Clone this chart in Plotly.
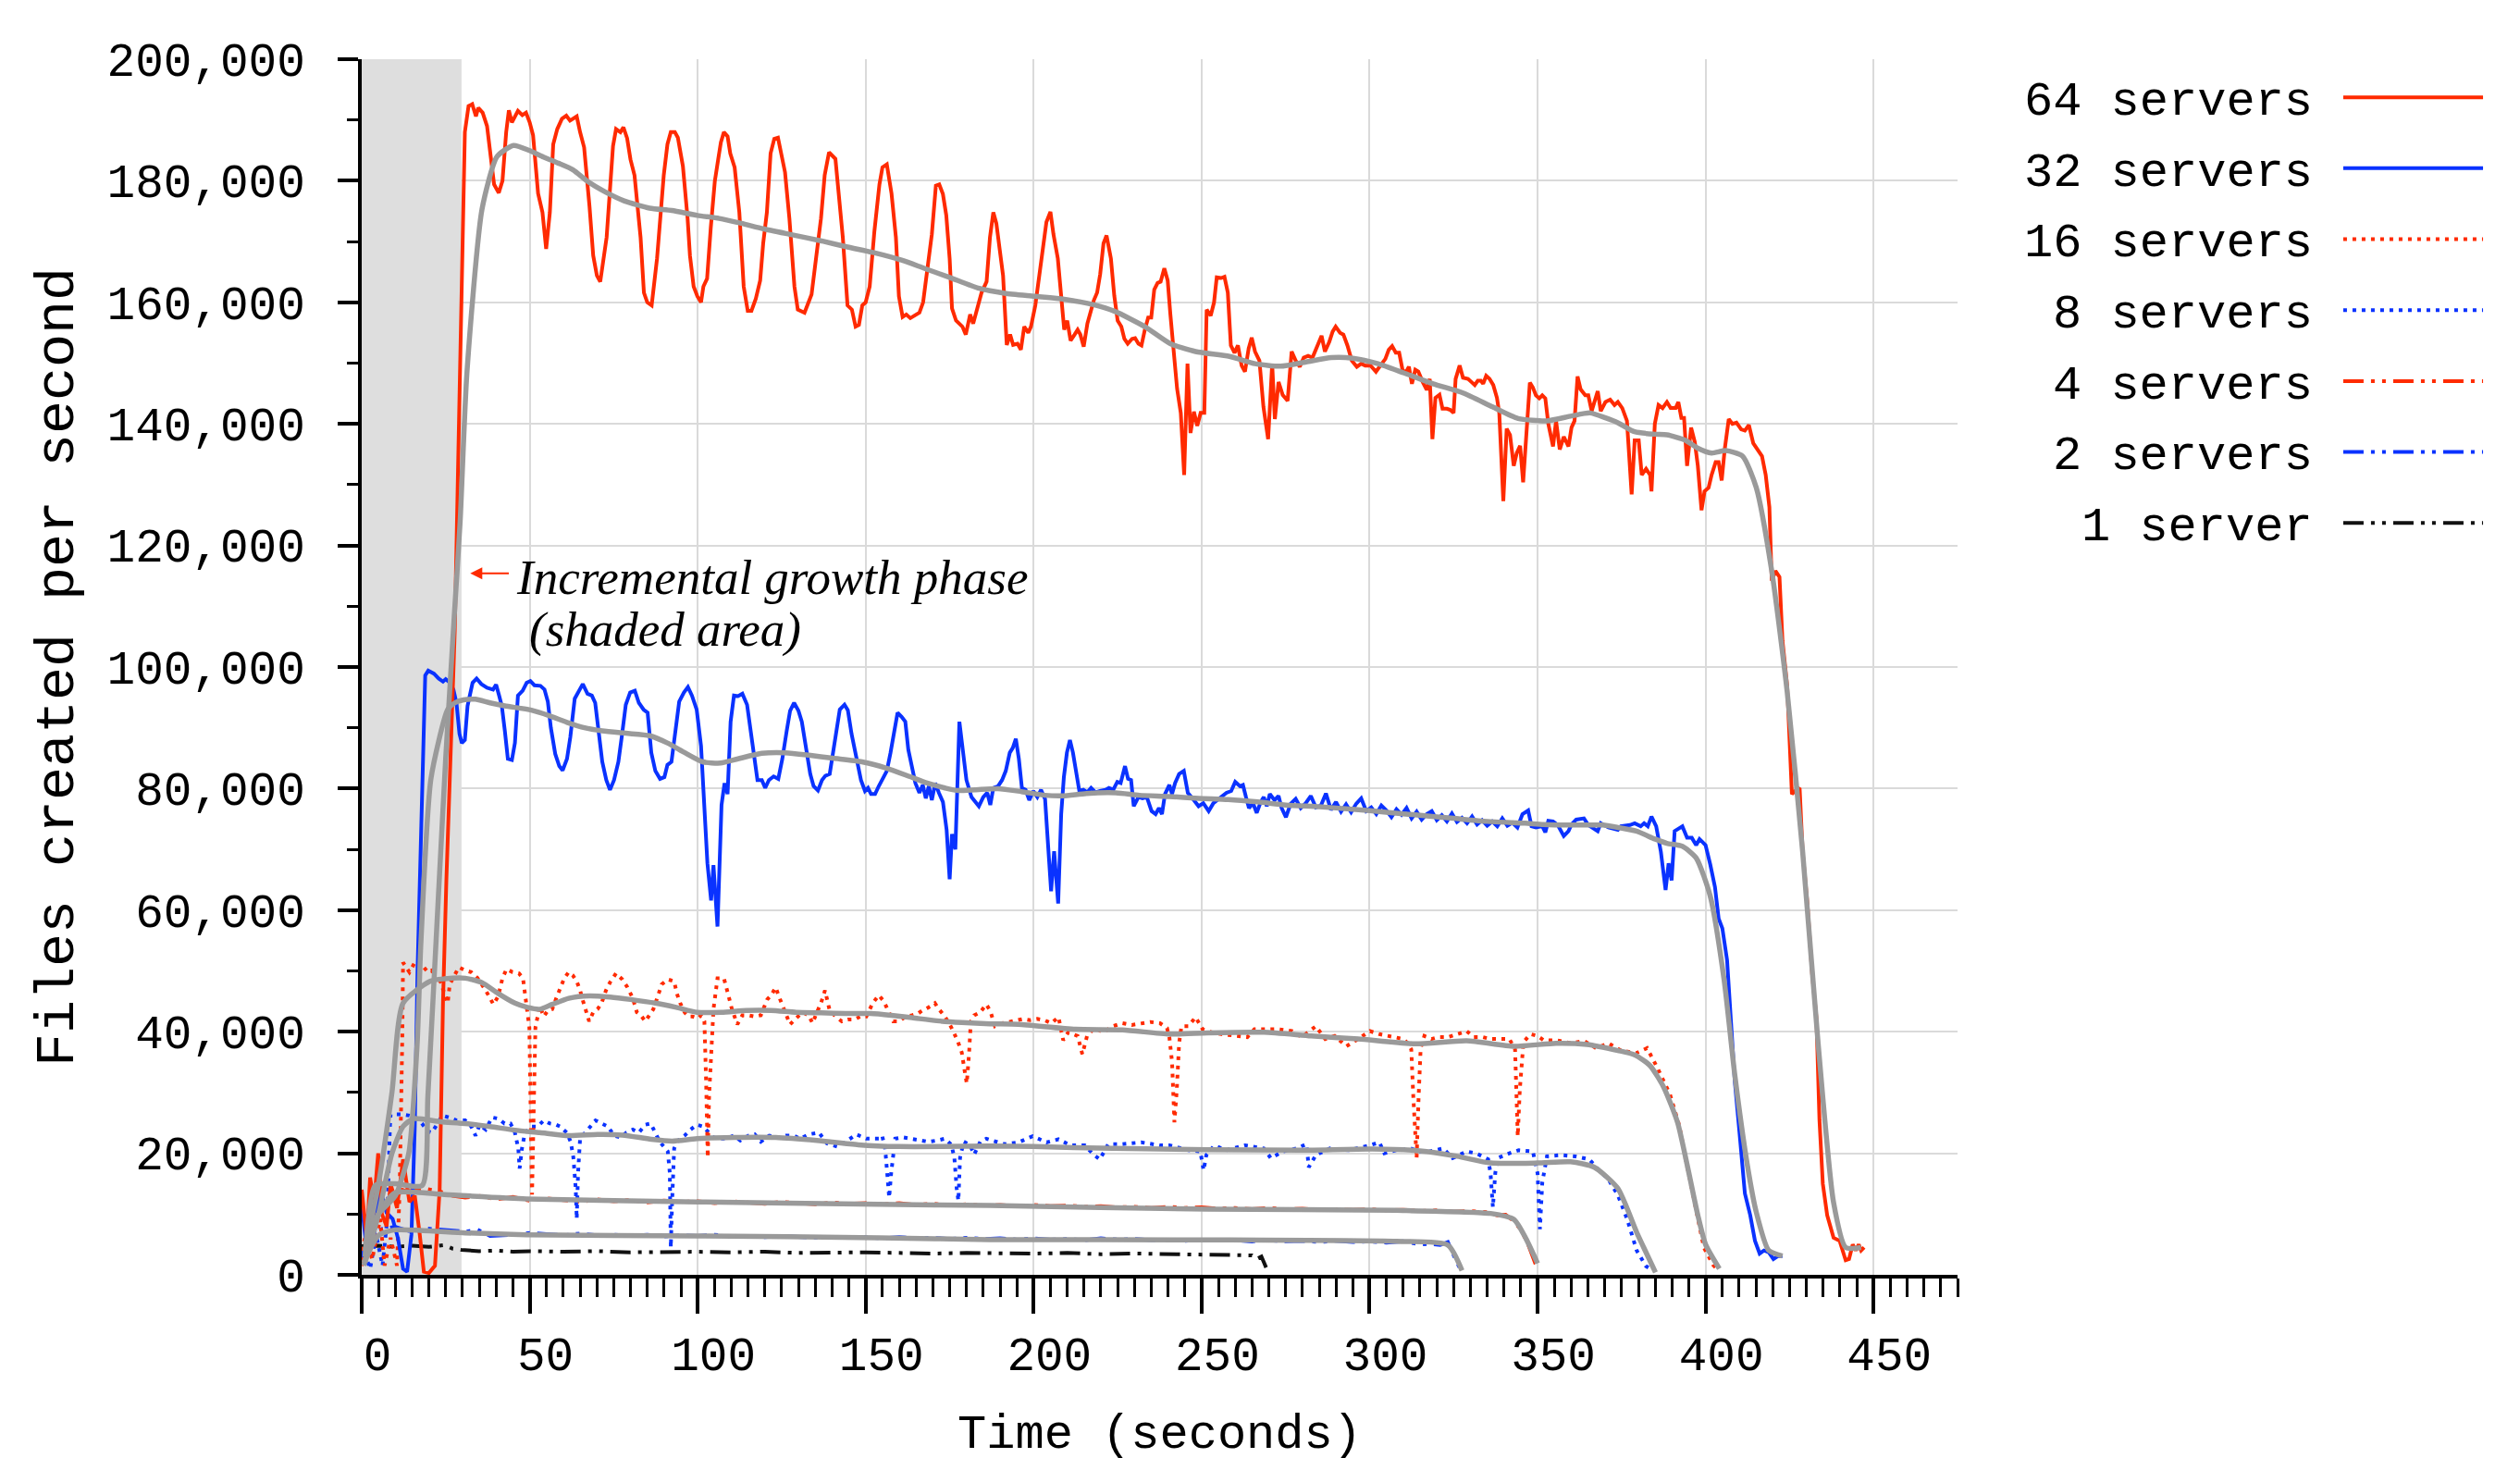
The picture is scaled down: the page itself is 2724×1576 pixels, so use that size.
import plotly.graph_objects as go

# ---------------- data: (time in seconds, thousand files created per second) ----------------
s64 = [(0, 14), (1.5, 6), (2.5, 16), (3.7, 12), (4.9, 20), (6, 10), (7.4, 8), (8.6, 15), (10.5, 11), (12.3, 19),
       (14.2, 12), (15.8, 13), (17.2, 7), (18.5, 0.5), (20, 0.3), (21.8, 1.5), (23.2, 14), (24.2, 45), (25.2, 65),
       (27.7, 106), (30.7, 188), (31.8, 192.3), (32.9, 192.6), (34, 190.6), (34.7, 192), (36, 191.2), (37.3, 189),
       (38, 186), (39.4, 179.4), (40.8, 178), (41.9, 180), (43, 188), (43.8, 191.6), (44.7, 189.6), (46.5, 191.5),
       (47.8, 190.8), (48.9, 191.2), (50, 189.6), (51, 187.5), (52.5, 177.9), (53.8, 174.8), (54.9, 168.8),
       (56, 174.8), (57, 186), (58.2, 188.5), (59.6, 190.2), (60.9, 190.7), (62, 189.9), (64, 190.6), (65, 188),
       (66.2, 185.5), (67.8, 175.8), (68.9, 167.7), (70, 164.4), (71, 163.4), (72.9, 170.7), (74, 179.9),
       (74.8, 185.7), (75.7, 188.5), (77, 188), (77.9, 188.8), (79, 187), (80, 183.5), (81.2, 180.9), (83, 170.7),
       (84, 161.6), (85, 160), (86.3, 159.5), (87.9, 167.2), (89, 175.8), (89.9, 180.9), (91, 186), (92, 188),
       (93.2, 188), (94.1, 187.1), (95.6, 182.4), (97, 173.8), (97.7, 167.7), (98.8, 162.6), (99.9, 161), (101, 160),
       (101.7, 162.6), (102.8, 163.9), (103.9, 172.3), (105.1, 179.9), (106.1, 183.5), (106.9, 186.3), (107.8, 188),
       (108.9, 187.3), (109.7, 184.5), (111, 182.2), (112.4, 174.8), (113.7, 162.6), (114.9, 158.6), (116, 158.6),
       (117.3, 160.6), (118.6, 163.6), (119.5, 169.7), (120.6, 174.8), (121.7, 184.5), (122.8, 186.9), (123.9, 187.1),
       (125, 184), (126, 181.4), (127.3, 173.8), (128.8, 162.6), (129.8, 158.8), (131.8, 158.3), (133.9, 161.3),
       (135.3, 167.7), (136.7, 173.8), (137.8, 180.9), (139.1, 184.7), (141, 183.6), (141.8, 178.4), (143.2, 170.7),
       (144.6, 159.5), (145.9, 158.8), (147, 156), (148, 156.3), (149, 159.5), (150, 160), (151.2, 162.6),
       (152.6, 171.7), (154.1, 179.4), (155, 182.2), (156.3, 182.7), (157.7, 177.9), (159, 170.7), (159.9, 161),
       (161, 157.6), (162.1, 158), (163.3, 157.4), (164.8, 158), (166, 158.3), (167.1, 160), (168.7, 167.2),
       (169.7, 171.2), (170.9, 179.2), (171.9, 179.4), (173, 177.8), (174, 174.3), (175, 167.2), (175.7, 159),
       (176.9, 157), (178.8, 156), (179.8, 154.7), (181.1, 158), (182, 156.5), (183.2, 159), (184.5, 161.6),
       (186, 163.4), (187, 170.7), (188, 174.8), (188.9, 173), (189.9, 168.7), (190.9, 164.4), (192, 153),
       (193, 154.7), (193.9, 153), (195.2, 153.2), (196.2, 152.2), (197.2, 156), (198.4, 155), (199.2, 156),
       (200.5, 159.5), (201.8, 165.1), (203.8, 173.2), (205, 174.9), (205.9, 171.2), (207.2, 167.2), (208.1, 161.1),
       (209.1, 155.5), (210, 157), (211, 153.7), (212.2, 154.7), (213.1, 155.5), (213.9, 154.7), (214.9, 152.7),
       (216, 156.5), (216.9, 158.3), (217.9, 160.3), (218.9, 161.6), (219.8, 164.6), (220.8, 169.7), (221.7, 171),
       (223, 167.2), (224, 161.1), (225, 157), (226.1, 156), (227, 154), (228, 153.2), (229.3, 154), (230.2, 154.1),
       (231.2, 153.2), (232.1, 152.9), (233.1, 155.5), (234.1, 157.5), (235, 157.5), (235.9, 162.1), (236.9, 163.2),
       (237.8, 163.4), (238.9, 165.6), (239.9, 163.6), (240.7, 158), (241.7, 151.9), (242.7, 145.8), (243.8, 141.8),
       (244.8, 131.6), (245.8, 149.9), (246.7, 138.5), (247.7, 142), (248.7, 139.7), (249.7, 141.8), (250.8, 141.8),
       (251.5, 158.8), (252.7, 157.8), (253.7, 160), (254.5, 164.1), (255.8, 164), (256.8, 164.2), (257.8, 161.6),
       (258.7, 152.9), (259.8, 151.7), (260.8, 152.9), (261.9, 149.6), (262.9, 148.6), (264, 152.4), (264.9, 154.2),
       (265.9, 151.9), (267.2, 150.4), (268.4, 142.8), (269.8, 137.5), (271, 149.9), (271.8, 140.8), (272.9, 146.9),
       (274.1, 144.8), (275.6, 143.8), (276.8, 151.9), (278, 150.4), (279.2, 149.4), (280.4, 150.9), (281.7, 151.2),
       (283, 150.9), (284.2, 152.4), (285.7, 154.5), (286.7, 151.9), (288, 153.5), (289, 155.2), (289.9, 156),
       (291.2, 155), (292.2, 154.7), (293.4, 152.9), (294.7, 150.4), (296.2, 149.4), (297.5, 149.9), (298.7, 149.6),
       (300.3, 149.6), (301.9, 148.6), (303.2, 149.6), (304.7, 150.7), (305.7, 152.2), (306.7, 152.8), (307.8, 151.7),
       (308.8, 151.7), (309.8, 148.9), (310.7, 148.4), (311.7, 149.4), (312.6, 146.6), (313.6, 148.9), (314.5, 148.6),
       (315.8, 146.9), (317, 145.6), (317.9, 147.4), (318.7, 137.5), (319.6, 144.3), (320.8, 144.8), (321.7, 142.5),
       (323, 142.5), (324, 142.3), (325, 141.8), (325.6, 147.4), (326.8, 149.6), (327.8, 147.6), (329.3, 147.4),
       (330.3, 146.9), (331.3, 146.4), (332.2, 147.1), (333.1, 147.1), (333.8, 146.6), (334.7, 147.9), (335.7, 147.4),
       (336.8, 146.4), (337.9, 144.3), (338.6, 141.8), (339.8, 127.3), (340.8, 139.2), (341.8, 138.2), (342.9, 133.1),
       (343.8, 135.2), (344.8, 136.4), (345.7, 130.4), (347.7, 146.8), (348.6, 146), (349.5, 144.7), (350.5, 144.2),
       (351.4, 144.7), (352.3, 144.2), (353.2, 140), (354.6, 136.3), (355.5, 140.5), (356.6, 135.8), (357.8, 137.9),
       (359.2, 136.3), (360.1, 139.4), (361, 140.5), (361.9, 147.8), (362.8, 145.7), (364.2, 144.7), (365.1, 144.7),
       (366.1, 142.1), (367.9, 145.4), (368.8, 142.1), (370.2, 143.6), (371.6, 144), (372.9, 143.1), (373.9, 143.6),
       (375.2, 142.6), (376.6, 140.5), (378, 128.4), (378.9, 137.3), (380.1, 137.3), (381, 131.6), (382.3, 132.6),
       (383.5, 131.6), (383.9, 128.9), (384.9, 140), (386, 143.1), (387.2, 142.6), (388.5, 143.6), (389.6, 142.6),
       (391.1, 142.6), (391.9, 143.6), (392.8, 141), (393.6, 141), (394.5, 133.1), (395.7, 139.4), (396.8, 137),
       (397.7, 133.1), (398.8, 125.8), (399.7, 128.9), (400.9, 129.5), (401.8, 131.6), (403, 133.7), (403.9, 133.7),
       (404.8, 130.7), (405.7, 135.8), (406.9, 140.8), (408, 140), (409.2, 140.2), (410.6, 139.1), (411.7, 138.9),
       (412.9, 139.8), (414.2, 136.8), (415.6, 135.6), (416.8, 134.7), (417.9, 131.6), (419, 126.3), (419.7, 114.2),
       (420.8, 115.8), (422, 114.8), (422.9, 104.3), (424.3, 96.9), (425.7, 79.1), (426.6, 79.6), (428, 80.1),
       (428.9, 69.6), (430.3, 61.2), (431.7, 49.7), (433, 42.3), (433.9, 25.5), (434.9, 15), (436.2, 9.8),
       (438.1, 6.1), (439.9, 5.6), (441.7, 2.4), (442.7, 2.6), (443.8, 5), (444.7, 4), (445.6, 5), (446.3, 4),
       (447.2, 4.5)]

g64 = [(1, 3), (4, 14.7), (10, 15), (18, 14.7), (19.7, 29.5), (22.8, 62), (25, 85), (27.5, 108), (29.3, 124),
       (31.3, 148.3), (35.8, 175.3), (40.3, 184), (45.2, 185.8), (49.8, 185), (54.1, 183.9), (58.5, 182.9),
       (62.9, 181.8), (67.2, 179.9), (72.7, 178.1), (78.1, 176.7), (85.7, 175.5), (92.3, 175.1), (99.9, 174.3),
       (106.4, 173.8), (113, 173), (119.5, 172.1), (128.2, 171.1), (136.9, 170.1), (144.6, 169.1), (152.2, 168.2),
       (160.9, 166.9), (167.4, 165.6), (175, 164.1), (183.8, 162.3), (191.4, 161.5), (200.3, 161), (209.1, 160.5),
       (217.9, 159.6), (224.2, 158.5), (233.1, 156), (240.7, 153.2), (248.2, 151.9), (258.3, 151.1), (265.9, 149.9),
       (273.5, 149.5), (281.1, 150.2), (288.6, 150.9), (295, 150.8), (302.5, 149.9), (310.1, 148.4), (318.9, 146.6),
       (327.8, 145.1), (336.6, 142.8), (344.2, 140.9), (352.8, 140.5), (360.1, 141.3), (365.6, 141.8), (370.2, 141),
       (373.9, 140.2), (378.9, 138.7), (384.9, 138.3), (388.5, 138.2), (394, 137.3), (397.7, 136), (401.8, 135.2),
       (406, 135.6), (411, 134.7), (415.1, 129.5), (419.7, 115.8), (424.3, 95.9), (428.9, 69.6), (433.5, 38.1),
       (438.1, 11.9), (441.7, 4.5), (446.3, 4.5)]

s32 = [(0, 11.7), (1.5, 4), (2.5, 9.2), (3.7, 6.6), (5.5, 14.2), (7.4, 10.2), (9.2, 9.2), (10.8, 6), (12.3, 1),
       (13.5, 0.5), (14.8, 6.6), (15.8, 24.4), (16.6, 49.8), (17.7, 75.8), (18.9, 98.6), (19.8, 99.4), (21.5, 98.9),
       (22.9, 98.1), (24.2, 97.6), (25, 98), (26.3, 97.4), (27.3, 96.3), (28.2, 94.1), (29.1, 89), (29.8, 87.5),
       (30.7, 88), (31.5, 93.6), (33, 97.4), (34.2, 98.1), (35.6, 97.2), (37.3, 96.6), (39.1, 96.3), (40, 97.1),
       (40.9, 95.3), (41.7, 93.6), (42.6, 89.5), (43.5, 84.9), (44.7, 84.7), (45.6, 87.5), (46.5, 95.3), (47.9, 96.1),
       (49.1, 97.4), (50.2, 97.7), (51.4, 97), (53.2, 96.9), (54.4, 96.3), (55.4, 94.3), (56.3, 90), (57.6, 85.7),
       (58.8, 83.7), (59.8, 83), (61.1, 84.9), (62.1, 88.5), (63.4, 94.8), (64.6, 96.1), (65.8, 97.2), (67.2, 95.6),
       (68.5, 95.3), (69.5, 94.1), (70.4, 89.5), (71.6, 84.4), (72.8, 81.4), (73.9, 79.8), (75.1, 81.4), (76.4, 84.4),
       (77.4, 88.5), (78.6, 93.8), (79.9, 95.8), (81.3, 96.1), (82.5, 94.1), (83.9, 93), (85.1, 92.5), (86.2, 85.9),
       (87.4, 82.9), (88.8, 81.6), (90.1, 81.9), (91, 83.9), (92.2, 84.4), (93.2, 88.5), (94.5, 94.3), (95.9, 95.8),
       (97.1, 96.7), (98.3, 95.3), (99.7, 93), (101, 87), (102, 75.8), (102.9, 67.7), (104, 61.6), (104.7, 67.4),
       (105.9, 57.3), (107.1, 77.3), (108, 80.9), (108.9, 79.1), (109.8, 91), (110.8, 95.3), (112, 95.2),
       (113.3, 95.6), (114.7, 93.8), (115.9, 89), (117, 83.9), (117.8, 81.4), (119.1, 81.4), (120.1, 80.1),
       (121.2, 81.4), (122.6, 82), (124, 81.6), (125.2, 84.9), (126.5, 89.5), (127.5, 92.8), (128.7, 94.1),
       (130, 92.8), (131, 91), (132.2, 87), (133.5, 82.4), (134.5, 80.4), (135.8, 79.7), (137, 81.4), (138, 82.1),
       (139.3, 82.4), (140.2, 85.9), (141.2, 89.5), (142.3, 93), (143.7, 93.8), (144.7, 92.9), (145.8, 89),
       (147.2, 84.9), (148.6, 81.4), (149.8, 79.6), (150.7, 80.1), (151.6, 79.1), (152.8, 79.1), (153.9, 80.4),
       (154.9, 81.4), (156.3, 82.9), (157.4, 85.9), (158.6, 89.5), (159.5, 92.5), (160.7, 91.8), (161.8, 91),
       (162.7, 86.4), (163.9, 82.9), (164.8, 80.9), (166, 79.3), (167, 80.6), (167.9, 78.4), (168.8, 80.4),
       (169.7, 78.1), (170.7, 80.9), (171.8, 79.3), (173, 77.8), (174.1, 73.2), (175, 65.1), (175.7, 72.5),
       (176.7, 70), (177.9, 91), (178.8, 86.4), (180, 81.4), (181.5, 78.6), (182.7, 77.8), (183.7, 77.1), (185, 78.6),
       (186.2, 79.3), (187.1, 77.3), (188, 80.1), (189.4, 80.4), (190.6, 81.4), (191.7, 82.9), (192.9, 85.9),
       (193.8, 86.7), (194.7, 88.2), (195.6, 84.9), (196.5, 80.1), (197.6, 79.8), (198.7, 78.1), (199.9, 79.6),
       (201.1, 78.6), (202.2, 79.8), (203.4, 78.3), (204, 73.2), (205.2, 63.1), (206.1, 69.7), (207.3, 61.1),
       (208.2, 75.8), (209, 81.9), (209.9, 85.9), (210.8, 88), (211.7, 85.9), (212.5, 83.4), (213.6, 79.6),
       (214.8, 79.8), (216, 79.4), (217.1, 80.1), (218.4, 79.4), (219.8, 79.6), (221.4, 79.8), (222.4, 80.1),
       (223.7, 79.8), (224.9, 81.1), (225.9, 80.9), (227.2, 83.7), (228.1, 81.6), (229, 81.4), (229.8, 77.1),
       (231.2, 78.6), (232.4, 78.4), (233.7, 78.6), (235.1, 76.3), (236.3, 75.8), (237.3, 76.8), (238.2, 75.8),
       (239.1, 79.1), (240.4, 80.6), (241.2, 79.1), (242.1, 80.9), (243.3, 82.4), (244.7, 82.9), (245.9, 79.3),
       (247.3, 78.4), (249.1, 77.1), (250.5, 77.6), (252.1, 76.3), (253.5, 77.6), (254.7, 78.1), (256.1, 78.8),
       (257.4, 79.3), (258.8, 79.6), (260, 81.1), (261.4, 80.4), (262.3, 80.6), (263.2, 78.6), (264.1, 76.8),
       (265.3, 77.6), (266.4, 76), (267.6, 77.8), (268.5, 78.6), (269.4, 77.1), (270.3, 79.1), (271.7, 78.1),
       (272.9, 78.8), (273.8, 76.8), (275.1, 75.3), (276.5, 77.5), (278, 78.3), (279.5, 76.8), (281, 77.6),
       (282.5, 78.8), (284, 76.9), (285.5, 77.2), (287, 79.2), (288.5, 76.5), (290, 77.8), (291.5, 76.2), (293, 77.4),
       (294.5, 76.1), (296, 77.5), (297.5, 78.4), (299, 76.3), (300.5, 76.9), (302, 75.8), (303.5, 77.2), (305, 76.4),
       (306.5, 75.3), (308, 76.6), (309.5, 75.7), (311, 76.8), (312.5, 75.1), (314, 76.2), (315.5, 74.9), (317, 75.8),
       (318.5, 76.3), (320, 74.8), (321.5, 75.6), (323, 74.6), (324.5, 75.9), (326, 74.5), (327.5, 75.2), (329, 74.3),
       (330.5, 75.4), (332, 74.1), (333.5, 74.8), (335, 73.9), (336.5, 74.6), (338, 73.8), (339.5, 75.1), (341, 73.9),
       (342.5, 74.4), (344, 73.6), (345.5, 75.8), (347.2, 76.4), (348.2, 73.8), (349.5, 73.6), (351.4, 73.8),
       (352.3, 72.8), (353.2, 74.7), (354.6, 74.6), (356, 74), (357.8, 72.2), (359.2, 73), (360.1, 74.1),
       (361.5, 74.9), (363.8, 75.1), (365.1, 74), (367.9, 73), (368.8, 74.3), (371.1, 73.6), (373.9, 73.2),
       (374.8, 73.8), (377.5, 74), (378.9, 74.3), (380.7, 73.8), (381.7, 74.3), (382.8, 73.8), (383.9, 75.4),
       (385.3, 73.8), (386.7, 69.6), (388.1, 63.3), (389, 67.7), (389.9, 64.9), (390.8, 73), (393.1, 73.8),
       (394.5, 71.9), (395.9, 71.9), (397.2, 70.7), (398.2, 71.7), (400, 70.7), (401.4, 67.5), (402.8, 63.8),
       (403.9, 58.6), (405, 57), (406.4, 51.8), (407.3, 44.4), (408.7, 31.8), (410.1, 23.4), (411.7, 13.4),
       (413.3, 9.8), (414.7, 5.6), (416.1, 3.5), (417.4, 4), (418.8, 3.7), (420.2, 2.6), (421.6, 3.1), (422.9, 3.1)]

g32 = [(1, 5), (5, 10), (10, 13), (14, 20), (16.5, 38), (17.6, 54.5), (20.6, 81.6), (25.6, 93), (27.7, 94.1),
       (30.3, 94.6), (33.8, 94.7), (38.2, 94.1), (42.6, 93.6), (50.5, 92.9), (55.8, 92), (61.1, 90.9), (66.3, 90),
       (71.6, 89.5), (78.6, 89.1), (85.7, 88.7), (91, 87.5), (96.2, 85.9), (101.5, 84.4), (106.8, 84.2), (112, 84.9),
       (119.1, 85.8), (126.1, 85.9), (133.1, 85.5), (140.2, 85), (148.9, 84.4), (156, 83.4), (163, 82), (168.3, 80.9),
       (173.6, 80.1), (177.1, 79.7), (182.4, 79.8), (189.4, 80), (196.4, 79.5), (203.4, 78.9), (208.7, 78.8),
       (215.7, 79.2), (224.5, 79.3), (231.5, 78.9), (240.3, 78.7), (249.1, 78.4), (257.9, 78.2), (266.7, 77.8),
       (275.1, 77.3), (285, 77), (295, 76.6), (305, 76.1), (315, 75.6), (325, 75.1), (335, 74.6), (346.3, 74.3),
       (351.8, 74.1), (360.1, 74), (369.3, 74), (373.9, 73.6), (379.4, 73), (384.9, 71.7), (388.5, 71), (393.1, 70.5),
       (397.2, 68.6), (401.4, 62.3), (405.5, 48.6), (408.7, 32.9), (412.4, 18.2), (415.1, 10.3), (418.8, 4),
       (422.9, 3.1)]

s16 = [(0, 4), (1.2, 6.6), (3.1, 2.5), (5.5, 9.2), (6.8, 1.5), (8.6, 6.1), (10.5, 1.5), (11.3, 14.2), (12.1, 39.7),
       (12.3, 51.4), (14.2, 49.8), (15.8, 51.4), (17.2, 50.3), (18.5, 50.6), (19.7, 49.8), (20.9, 50.1), (22.4, 47.8),
       (23.4, 48.3), (24.6, 46.3), (25.6, 44.7), (26.2, 47.8), (27.1, 48.8), (28.9, 50.6), (30.8, 50.1), (32.6, 49.8),
       (34.5, 48.8), (36.9, 46.8), (39.2, 44.5), (40.6, 45.8), (41.9, 48.8), (43.1, 50.3), (44.9, 49.8), (46.8, 49.6),
       (48, 48.8), (49, 44.2), (49.9, 40.7), (50.5, 19.3), (50.7, 13.2), (51.1, 24.4), (51.7, 40.7), (53, 44.2),
       (54.2, 42.5), (55.4, 43.5), (56.7, 43.7), (57.9, 45.5), (59.1, 47.3), (60.3, 48.8), (61.6, 49.8), (62.8, 49.3),
       (64, 48.3), (65, 46.8), (65.9, 45), (66.7, 43.7), (67.7, 41.7), (68.9, 43.2), (70.2, 43.7), (71.4, 44.7),
       (72.7, 46.8), (73.9, 48.1), (75.7, 49.6), (77.6, 48.6), (79.1, 47.3), (80.7, 45.5), (81.9, 43.2), (83.1, 42.7),
       (84.4, 41.7), (85.6, 42.7), (86.8, 43.7), (88.1, 45.8), (89.3, 47.8), (91.1, 48.6), (93, 48.3), (93.8, 46.3),
       (94.8, 44.7), (96.1, 43.2), (97.3, 42.5), (98.5, 42.5), (100, 42.2), (101, 42.7), (102, 41.7), (102.5, 32.1),
       (103, 19.3), (103.4, 29.5), (104.1, 38.6), (104.7, 43.7), (105.9, 48.8), (107.8, 48.8), (109, 46.3),
       (110.2, 43.7), (111.8, 41.2), (113.3, 42.7), (115.1, 42.7), (117, 42.5), (118.8, 42.7), (120.7, 45.3),
       (121.9, 46), (123.2, 47.3), (124.4, 45.5), (125.6, 43.7), (127.5, 41.2), (129.3, 42.2), (131.2, 43.2),
       (133, 42.7), (134.2, 41.4), (135.5, 43.2), (136.7, 44.7), (137.9, 46.8), (139.2, 43.7), (141, 42.5),
       (142.9, 41.7), (144.7, 42), (146.6, 42), (148.4, 42.5), (150.2, 42.5), (152.1, 44.7), (153.9, 46), (155.4, 45),
       (156.4, 43.7), (158.2, 41.7), (159.9, 41.7), (161.9, 42.5), (163.8, 42.7), (165.6, 43), (166.9, 43.5),
       (168.7, 44), (170.6, 44.7), (171.8, 43.7), (173.6, 42.5), (175.5, 40.7), (177.3, 38.6), (178.6, 36.6),
       (179.6, 33.1), (180.1, 31.5), (180.8, 36.6), (181.3, 41.7), (182.3, 42.7), (184.1, 43.2), (185.9, 44.5),
       (187.1, 43.4), (188.5, 40.9), (190.6, 41.4), (192.7, 41.6), (194.8, 41.9), (196.9, 42.1), (199, 41.9),
       (201.1, 42.1), (203.2, 41.9), (205.3, 41.4), (207.4, 42.4), (208.8, 38.6), (210.3, 39.9), (211.7, 39.6),
       (213.1, 39.3), (214.5, 36.3), (215.9, 39.3), (218, 40.6), (220.8, 39.9), (223.6, 40.9), (226.4, 41.4),
       (229.2, 41.1), (232, 41.4), (234.8, 41.6), (237.6, 41.4), (239.7, 40.6), (240.4, 39.1), (241.2, 35),
       (241.9, 25.1), (242.6, 30.4), (243.3, 38.1), (244, 40.9), (246.1, 40.9), (248.2, 42.4), (250.3, 40.4),
       (253.1, 39.9), (255.9, 39.6), (260.1, 39.3), (263.6, 39.1), (265.7, 40.4), (268.5, 40.4), (272.8, 40.4),
       (276.9, 40.1), (279.8, 39.1), (284, 40.9), (286.8, 38.8), (289.6, 39.3), (293.1, 37.6), (296.6, 38.8),
       (300.1, 40.1), (302.9, 39.6), (305.8, 39.3), (307.9, 39.1), (310, 38.8), (311.4, 38.1), (312.4, 37.1),
       (313, 29.4), (313.5, 24.3), (314, 19.2), (314.6, 29.4), (315.2, 37.3), (316.3, 39.3), (318.4, 38.8),
       (320.5, 39.1), (323.3, 39.1), (326.1, 39.6), (328.9, 40.1), (331, 39.1), (333.8, 39.1), (336, 38.8),
       (338.8, 38.8), (341.6, 38.8), (343.3, 37.1), (343.7, 29.4), (344.1, 22.8), (344.7, 30.4), (345.8, 38.3),
       (347.9, 39.6), (350, 39.3), (351.8, 38.6), (355.5, 38.6), (360.1, 38.1), (363.8, 38.5), (367.4, 37.3),
       (371.1, 38.1), (374.8, 36.9), (379.4, 36.5), (382.6, 37.3), (385.8, 33.9), (389.4, 29.7), (392.2, 24.5),
       (394, 19.2), (395.9, 14), (397.7, 8.7), (399.5, 4.5), (402.3, 1.6), (403.7, 0.8)]

g16 = [(1, 4), (5, 15), (9, 30), (12.3, 44.7), (20.3, 48.3), (24.6, 48.7), (30.8, 48.8), (35.7, 48.1), (40.6, 46.3),
       (45.6, 44.7), (49.3, 44), (53, 43.7), (56.7, 44.5), (61.6, 45.5), (67.7, 45.9), (73.9, 45.7), (80, 45.3),
       (87.4, 44.7), (93.6, 44), (99.8, 43.2), (107.1, 43.2), (114.5, 43.5), (121.9, 43.5), (129.3, 43.2),
       (136.7, 43.1), (144.1, 43), (151.5, 43), (157.6, 42.7), (163.8, 42.3), (171.2, 41.8), (178.6, 41.5),
       (187, 41.3), (195.5, 41.2), (212.4, 40.4), (226.4, 40.3), (240.4, 39.6), (251.7, 39.8), (268.5, 39.9),
       (282.6, 39.3), (296.6, 38.8), (313.5, 38), (328.9, 38.5), (343, 37.6), (355.5, 38.1), (364.7, 37.9),
       (373.9, 36.9), (378.9, 36.2), (383.5, 34.4), (387.6, 30.8), (391.7, 25), (394.9, 17.1), (397.7, 9.8),
       (400, 5), (404.1, 1)]

s8 = [(0, 3), (0.6, 4), (2.5, 1), (4.3, 6.6), (6.2, 1.5), (7.6, 9.2), (8.4, 24.4), (8.6, 26.4), (10.5, 26.4),
      (12.3, 26.4), (14.2, 26.2), (16, 25.9), (17.9, 24.9), (19.7, 23.6), (20.9, 23.4), (22.4, 24.9), (24, 26.2),
      (25.9, 25.9), (28.3, 25.4), (30.8, 25.4), (32.6, 24.4), (33.9, 22.9), (35.1, 24.7), (36.9, 23.9), (38.8, 25.9),
      (40.6, 25.7), (42.5, 24.9), (44.3, 24.9), (45.6, 23.4), (46.6, 20.8), (47, 17.5), (47.7, 20.8), (48.6, 23.4),
      (50.5, 24.4), (52.3, 24.4), (54.2, 25.4), (56, 24.9), (57.9, 24.7), (59.1, 24.4), (61, 23.4), (62.2, 21.9),
      (63, 19.3), (63.7, 14.2), (64, 9.2), (64.4, 16.8), (65, 22.4), (66.5, 23.4), (67.7, 24.2), (69.6, 25.4),
      (71.4, 24.9), (73.3, 24.4), (75.1, 22.9), (77, 22.6), (78.8, 23.4), (80.7, 23.9), (82.5, 23.4), (84.4, 24.7),
      (86, 24.9), (87.4, 23.4), (88.7, 21.9), (89.9, 21.1), (91.1, 20.3), (91.7, 16.8), (92, 4.5), (92.4, 12.2),
      (93, 20.8), (94.2, 22.1), (96.1, 22.9), (97.9, 23.9), (99.8, 24.7), (101.6, 24.4), (103.2, 23.4), (104.7, 22.6),
      (106.5, 22.4), (108.4, 22.4), (110.8, 22.9), (112.7, 22.1), (115.1, 22.9), (117, 23.1), (118.8, 21.9),
      (121.3, 22.9), (123.8, 22.6), (126.2, 22.9), (128.7, 22.9), (130.5, 22.4), (133, 23.1), (136.1, 23.4),
      (138.5, 21.6), (141.6, 21.1), (144.1, 21.9), (147.2, 23.1), (150.2, 22.4), (153.9, 22.4), (154.9, 22.9),
      (155.8, 20.8), (156.4, 16.8), (157, 12.7), (157.6, 16.8), (158.8, 22.4), (161.3, 22.6), (163.8, 22.4),
      (166.3, 22.1), (168.7, 21.9), (171.2, 22.1), (173.6, 22.4), (175.5, 21.4), (176.4, 19.3), (177.1, 14.2),
      (177.6, 12.2), (178.1, 19.3), (179.2, 21.9), (181, 21.4), (182.3, 19.8), (184.1, 21.9), (185.9, 22.4),
      (191.3, 21.5), (195.5, 21.8), (199.7, 22.8), (203.9, 21.8), (207.4, 22.3), (211, 21.3), (215.2, 21.3),
      (218, 19.7), (219.7, 19), (222.2, 21.5), (226.4, 21.5), (232, 21.8), (237.6, 21.3), (240.4, 21.3),
      (246.1, 20.5), (249.6, 20.3), (250.6, 17.2), (251.4, 19.7), (253.8, 21.3), (257.3, 20.5), (262.9, 21.3),
      (268.5, 20.8), (270.6, 19.2), (274.2, 20.3), (278.4, 20.8), (281.2, 21.5), (281.9, 17.7), (284, 19.7),
      (288.2, 20.8), (293.8, 20.5), (300.1, 21.3), (302.9, 21.8), (304.4, 20), (307.9, 20.5), (312.1, 20.8),
      (314.9, 20.3), (317.7, 20.3), (321.9, 20.8), (324.7, 19.2), (328.9, 20.3), (331.7, 20), (335.3, 19),
      (336, 16.7), (336.7, 11.1), (337.4, 16.7), (338.1, 19.2), (341.6, 20), (344.4, 20.5), (348.6, 20.3),
      (350, 16.7), (350.7, 7.5), (351.4, 15.2), (352.8, 19.5), (357, 19.7), (361.2, 19.5), (365.4, 19),
      (368.3, 17.2), (371.1, 15.7), (373.9, 13.1), (376.7, 9.1), (379.5, 4), (382.3, 1.4), (384.4, 0.7)]

g8 = [(1, 2), (5, 10), (9, 20), (12.3, 24.4), (15.4, 25.7), (23.4, 25.2), (30.8, 24.9), (38.2, 24.4), (45.6, 23.8),
      (53, 23.4), (61.6, 22.9), (70.2, 23.1), (77.6, 23), (86.2, 22.3), (92.4, 22), (99.8, 22.4), (110.8, 22.6),
      (123.2, 22.6), (135.5, 22.1), (147.8, 21.4), (160, 21.1), (172.4, 21.1), (187, 21.2), (200, 21.1),
      (223.6, 20.8), (251.7, 20.6), (279.8, 20.5), (300.8, 20.7), (314.9, 20.4), (326.1, 19.5), (336, 18.4),
      (350, 18.4), (359.8, 18.6), (366.9, 17.7), (373.9, 14.2), (379.5, 7), (385.1, 0.4)]

s4 = [(0, 1.5), (2.5, 6.6), (4.3, 11.7), (6.2, 14.2), (8.6, 13.7), (11.1, 14.2), (13.5, 13.7), (18.5, 14.2),
      (23.4, 13.7), (27.1, 13), (30.8, 12.7), (35.7, 13), (40, 12.4), (45, 12.8), (50, 12.2), (55, 12.6), (60, 12.3),
      (65, 12.0), (70, 12.4), (75, 12.1), (80, 12.3), (85, 11.9), (90, 12.2), (95, 12.0), (100, 12.1), (105, 11.8),
      (110, 12.1), (115, 11.9), (120, 11.7), (125, 12.0), (130, 11.8), (135, 11.6), (140, 11.9), (145, 11.7),
      (150, 11.8), (155, 11.6), (160, 11.8), (165, 11.5), (170, 11.7), (175, 11.4), (180, 11.6), (185, 11.4),
      (190, 11.5), (195, 11.3), (200, 11.5), (205, 11.3), (210, 11.4), (215, 11.2), (220, 11.3), (225, 11.1),
      (230, 11.2), (235, 11.0), (240, 11.2), (245, 11.0), (250, 11.1), (255, 10.9), (260, 11.0), (265, 10.8),
      (270, 11.0), (275, 10.8), (280, 10.9), (285, 10.7), (290, 10.8), (295, 10.7), (300, 10.8), (305, 10.6),
      (310, 10.7), (315, 10.5), (320, 10.6), (325, 10.4), (330, 10.5), (335, 10.3), (338, 9.8), (340.5, 9.9),
      (342.3, 9.1), (345, 7.5), (347.2, 5), (349.3, 1.9), (350.2, 1.5)]

g4 = [(0.6, 1.5), (5, 10), (9.9, 13.5), (24.6, 13.2), (49, 12.5), (100, 12), (154, 11.6), (187, 11.4),
      (251.7, 10.8), (307.9, 10.6), (336, 10.1), (343, 9.1), (346.5, 6), (350, 1.9)]

s2 = [(0, 2), (0.6, 4), (3.1, 6.6), (6.2, 7.6), (9.9, 7.9), (14.8, 7.1), (19.7, 7.6), (23.4, 7.4), (30.8, 7.1),
      (34.5, 7.4), (38.2, 6.4), (45.6, 6.6), (50, 6.9), (55, 6.7), (60, 6.5), (65, 6.8), (70, 6.5), (75, 6.6),
      (80, 6.4), (85, 6.6), (90, 6.3), (95, 6.5), (100, 6.4), (105, 6.6), (110, 6.3), (115, 6.4), (120, 6.2),
      (125, 6.4), (130, 6.3), (135, 6.1), (140, 6.3), (145, 6.1), (150, 6.2), (155, 6.0), (160, 6.2), (165, 6.0),
      (170, 6.1), (175, 5.9), (180, 6.1), (185, 5.9), (190, 6.0), (195, 5.8), (200, 6.0), (205, 5.8), (210, 5.9),
      (215, 5.7), (220, 6.0), (225, 5.8), (230, 5.9), (235, 5.7), (240, 5.8), (245, 5.6), (250, 5.8), (255, 5.6),
      (260, 5.7), (265, 5.5), (270, 5.7), (275, 5.5), (280, 5.6), (285, 5.4), (290, 5.6), (295, 5.4), (300, 5.5),
      (305, 5.3), (310, 5.5), (315, 5.0), (318, 5.1), (321, 4.9), (323.3, 5.4), (324.7, 3.5), (326, 2), (327.5, 0.5)]

g2 = [(0.6, 2), (5, 6.5), (9.9, 7.4), (30.8, 6.9), (49, 6.6), (100, 6.4), (154, 6.1), (187, 5.8), (251.7, 5.75),
      (307.9, 5.5), (323.3, 4.9), (327.5, 0.7)]

s1 = [(0, 4.7), (5, 4.8), (10, 4.6), (15, 4.8), (20, 4.6), (24.6, 4.9), (27.1, 4.3), (29.6, 4.1), (35, 3.9),
      (40, 4.0), (45, 3.8), (50, 3.9), (60, 3.8), (70, 3.9), (80, 3.7), (90, 3.8), (100, 3.8), (110, 3.7),
      (120, 3.8), (130, 3.6), (140, 3.7), (150, 3.7), (160, 3.6), (170, 3.5), (180, 3.6), (190, 3.5), (200, 3.5),
      (210, 3.6), (220, 3.4), (230, 3.5), (240, 3.4), (250, 3.3), (260, 3.3), (265, 3.2), (266.4, 2.6),
      (267.8, 3.0), (269.2, 1.2)]

legend_labels = ['64 servers', '32 servers', '16 servers', '8 servers', '4 servers', '2 servers', '1 server']
shade_end = 29.7          # end of the incremental growth phase (s)
x_ticks = list(range(0, 451, 50))
y_ticks = list(range(0, 200001, 20000))

# ---------------- styling ----------------
RED = '#ff2a00'
BLUE = '#0a32ff'
BLACK = '#111111'
GRAY = '#9a9a9a'
DOT = '4px,6px'
DDD = '22px,8px,4px,8px,4px,8px'
MONO = 'Liberation Mono'

series = [  # label, data, smooth, colour, dash
    ('1 server', s1, None, BLACK, DDD),
    ('2 servers', s2, g2, BLUE, DDD),
    ('4 servers', s4, g4, RED, DDD),
    ('8 servers', s8, g8, BLUE, DOT),
    ('16 servers', s16, g16, RED, DOT),
    ('32 servers', s32, g32, BLUE, 'solid'),
    ('64 servers', s64, g64, RED, 'solid'),
]

fig = go.Figure()
for name, data, smooth, col, dash in series:
    fig.add_trace(go.Scatter(x=[p[0] for p in data], y=[p[1] * 1000 for p in data], mode='lines', name=name,
                             line=dict(color=col, width=4, dash=dash), showlegend=False))
for name, data, smooth, col, dash in series:
    if smooth:
        fig.add_trace(go.Scatter(x=[p[0] for p in smooth], y=[p[1] * 1000 for p in smooth], mode='lines',
                                 line=dict(color=GRAY, width=5.5, shape='spline', smoothing=0.6), showlegend=False,
                                 name=name + ' (smoothed)'))

# shaded growth phase
fig.add_shape(type='rect', xref='x', yref='y', x0=0, x1=shade_end, y0=0, y1=200000,
              fillcolor='#dedede', line=dict(width=0), layer='between')

# annotation
fig.add_annotation(x=32.3, y=115400, ax=44.2, ay=115400, axref='x', ayref='y', xref='x', yref='y', text='',
                   showarrow=True, arrowcolor=RED, arrowwidth=2, arrowhead=2, arrowsize=1.3)
fig.add_annotation(x=45.5, y=114800, xref='x', yref='y', text='<i>Incremental growth phase</i>', showarrow=False,
                   xanchor='left', yanchor='middle', font=dict(family='Liberation Serif', size=53, color='black'))
fig.add_annotation(x=49.3, y=106100, xref='x', yref='y', text='<i>(shaded area)</i>', showarrow=False,
                   xanchor='left', yanchor='middle', font=dict(family='Liberation Serif', size=53, color='black'))

# custom legend (text first, then line sample)
legend_styles = {'64 servers': (RED, 'solid'), '32 servers': (BLUE, 'solid'), '16 servers': (RED, DOT),
                 '8 servers': (BLUE, DOT), '4 servers': (RED, DDD), '2 servers': (BLUE, DDD),
                 '1 server': (BLACK, DDD)}
for i, lab in enumerate(legend_labels):
    yy = 0.9647 - i * 0.05837
    col, dash = legend_styles[lab]
    fig.add_annotation(x=1.2239, y=yy, xref='paper', yref='paper', text=lab, showarrow=False, xanchor='right',
                       yanchor='middle', font=dict(family=MONO, size=52, color='black'))
    fig.add_shape(type='line', xref='paper', yref='paper', x0=1.2417, x1=1.3293, y0=yy + 0.004, y1=yy + 0.004,
                  line=dict(color=col, width=4, dash=dash))

fig.update_layout(
    width=2724, height=1576, margin=dict(l=383, r=616, t=56, b=206, autoexpand=False),
    plot_bgcolor='white', paper_bgcolor='white',
    xaxis=dict(range=[0, 475], tickvals=x_ticks, ticks='outside', ticklen=38, tickwidth=4, tickcolor='black',
               showline=True, linewidth=4, linecolor='black', showgrid=True, gridcolor='#dadada', gridwidth=2,
               zeroline=False, tickfont=dict(family=MONO, size=51, color='black'), ticklabelshift=17,
               minor=dict(dtick=5, tick0=0, ticks='outside', ticklen=20, tickwidth=3, tickcolor='black',
                          showgrid=False),
               title=dict(text='Time (seconds)', font=dict(family=MONO, size=52, color='black'), standoff=34)),
    yaxis=dict(range=[0, 200000], tickvals=y_ticks, tickformat=',d', ticks='outside', ticklen=22, tickwidth=4,
               tickcolor='black', showline=True, linewidth=4, linecolor='black', showgrid=True,
               gridcolor='#dadada', gridwidth=2, zeroline=False, ticklabelstandoff=25,
               tickfont=dict(family=MONO, size=51, color='black'),
               minor=dict(dtick=10000, tick0=0, ticks='outside', ticklen=12, tickwidth=3, tickcolor='black',
                          showgrid=False),
               title=dict(text='Files created per second', font=dict(family=MONO, size=60, color='black'),
                          standoff=18)),
)

fig.write_html('out.html')
